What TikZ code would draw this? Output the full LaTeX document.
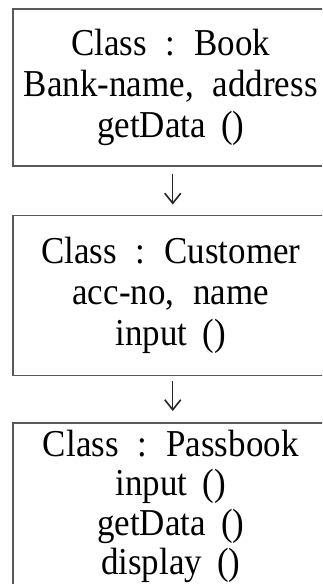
\documentclass[tikz,border=0pt]{standalone}
\usepackage{fontspec}
\setmainfont[FakeStretch=0.92]{Liberation Serif}
\usetikzlibrary{positioning, arrows.meta}

\begin{document}
\begin{tikzpicture}[x=1pt, y=1pt,
  classbox/.style={draw=black!65, line width=1.5pt, text width=316pt, inner xsep=0pt, align=center, font=\fontsize{38}{41}\selectfont},
  link/.style={-{Straight Barb[length=10pt,width=16pt,line width=1.6pt]}, line width=1.4pt, black!85}]
  \clip (0,0) rectangle (322,-584);
  \node[classbox, anchor=north west, minimum height=157pt] (book) at (12,-8) {Class\hspace{0.5em}:\hspace{0.5em}Book\\ Bank-name,\hspace{0.5em}address\\ getData\hspace{0.4em}()};
  \node[classbox, below=48pt of book, minimum height=160pt] (customer) {Class\hspace{0.5em}:\hspace{0.5em}Customer\\ acc-no,\hspace{0.5em}name\\ input\hspace{0.4em}()};
  \node[classbox, below=46pt of customer, inner ysep=7pt, font=\fontsize{38}{39.5}\selectfont] (passbook) {Class\hspace{0.5em}:\hspace{0.5em}Passbook\\ input\hspace{0.4em}()\\ getData\hspace{0.4em}()\\ display\hspace{0.4em}()};
  \draw[link, shorten <=7pt, shorten >=10pt] ([xshift=2pt]book.south) -- ([xshift=2pt]customer.north);
  \draw[link, shorten <=5pt, shorten >=11pt] ([xshift=2pt]customer.south) -- ([xshift=2pt]passbook.north);
\end{tikzpicture}
\end{document}
